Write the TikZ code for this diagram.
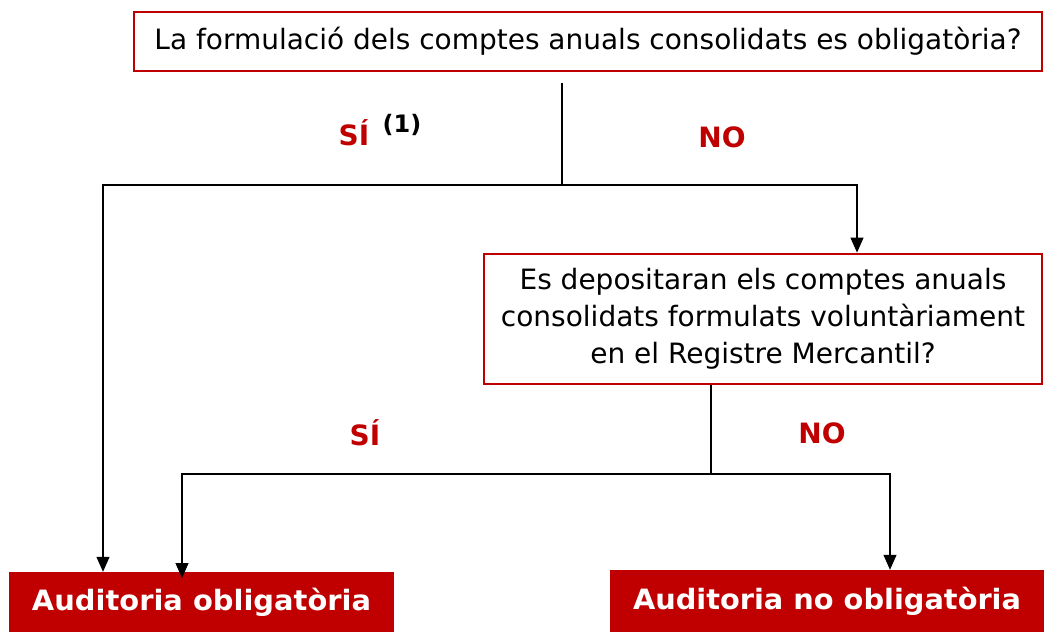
\documentclass[tikz,border=0pt]{standalone}
\usepackage{fontspec}
\setmainfont{DejaVu Sans}
\usepackage{graphicx}
\usetikzlibrary{arrows.meta}
\definecolor{dred}{HTML}{C00000}
\tikzset{
  qbox/.style={draw=dred, line width=2.8pt, fill=white, inner sep=0pt, align=center},
  rbox/.style={fill=dred, inner sep=0pt, text=white, font=\bfseries},
  conn/.style={draw=black, line width=1.1pt},
  arr/.style={conn, -{Triangle[length=15pt,width=13pt]}},
  lab/.style={text=dred, font=\bfseries\fontsize{28}{32}\selectfont, inner sep=0pt}
}
\begin{document}
\begin{tikzpicture}[x=1pt,y=-1pt]
\useasboundingbox (0,0) rectangle (1044,632);
\fill[white] (0,0) rectangle (1044,632);
% boxes
\node[qbox, minimum width=908pt, minimum height=59pt] (q1) at (588,41.5)
  {\resizebox{867pt}{\height}{\fontsize{28}{32}\selectfont La formulació dels comptes anuals consolidats es obligatòria?}};
\node[qbox, minimum width=558pt, minimum height=130pt, font=\fontsize{28}{37}\selectfont] (q2) at (763,319)
  {Es depositaran els comptes anuals\\consolidats formulats voluntàriament\\en el Registre Mercantil?};
\node[rbox, minimum width=385pt, minimum height=60pt] (a1) at (201.5,602)
  {\resizebox{339pt}{\height}{\fontsize{28}{32}\selectfont Auditoria obligatòria}};
\node[rbox, minimum width=434pt, minimum height=62pt] (a2) at (827,601)
  {\resizebox{388pt}{\height}{\fontsize{28}{32}\selectfont Auditoria no obligatòria}};
% labels
\node[lab] (si1) at (354,133) {SÍ};
\node[inner sep=0pt, font=\bfseries\fontsize{24}{28}\selectfont] (n1) at (402,125) {(1)};
\node[lab] (no1) at (722,137) {NO};
\node[lab] (si2) at (365,433) {SÍ};
\node[lab] (no2) at (822,433) {NO};
% junctions
\coordinate (t1) at (562,83);
\coordinate (j1) at (562,185);
\coordinate (xL) at (103,0);
\coordinate (xR) at (857,0);
\coordinate (j2) at (711,474);
\coordinate (xL2) at (182,578);
\coordinate (xR2) at (890,0);
% connectors
\draw[conn] (t1) -- (j1);
\draw[arr] (j1) -| (xL |- a1.north);
\draw[arr] (j1) -| (xR |- q2.north);
\draw[conn] (q2.south -| j2) -- (j2);
\draw[arr] (j2) -| (xL2);
\draw[arr] (j2) -| (xR2 |- a2.north);
\end{tikzpicture}
\end{document}
